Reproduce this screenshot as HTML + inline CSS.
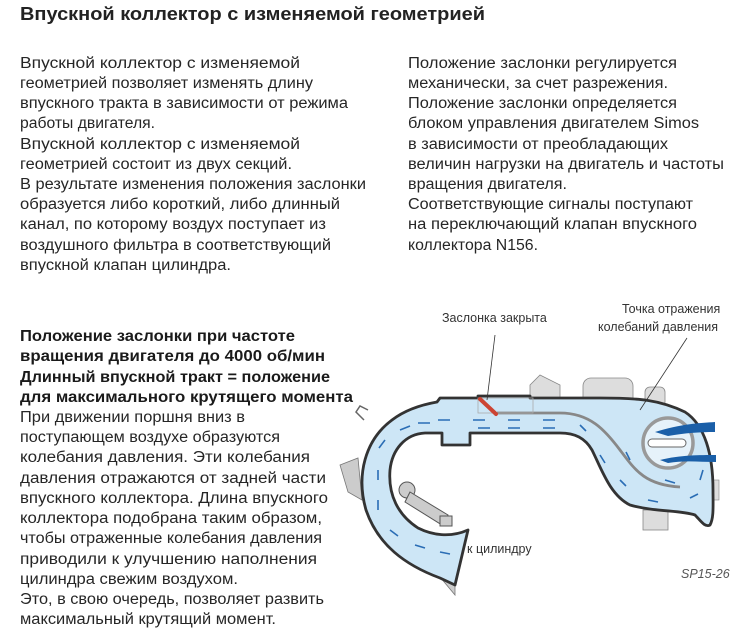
<!DOCTYPE html>
<html><head><meta charset="utf-8"><style>
html,body{margin:0;padding:0;background:#fff;}
svg{display:block}
text{font-family:"Liberation Sans","DejaVu Sans",sans-serif;fill:#262626;}
.n{font-size:15.5px}
.b{font-size:16px;font-weight:bold;fill:#1a1a1a}
.s{font-size:12.5px;fill:#333}
</style></head><body>
<svg width="746" height="635" viewBox="0 0 746 635" xmlns="http://www.w3.org/2000/svg">
<text x="20" y="20" style="font-size:18px;font-weight:bold;fill:#222" textLength="465" lengthAdjust="spacingAndGlyphs">Впускной коллектор с изменяемой геометрией</text>

<text class="n" x="20" y="68" textLength="280" lengthAdjust="spacingAndGlyphs">Впускной коллектор с изменяемой</text>
<text class="n" x="20" y="88" textLength="293" lengthAdjust="spacingAndGlyphs">геометрией позволяет изменять длину</text>
<text class="n" x="20" y="108" textLength="328" lengthAdjust="spacingAndGlyphs">впускного тракта в зависимости от режима</text>
<text class="n" x="20" y="128" textLength="135" lengthAdjust="spacingAndGlyphs">работы двигателя.</text>
<text class="n" x="20" y="149" textLength="280" lengthAdjust="spacingAndGlyphs">Впускной коллектор с изменяемой</text>
<text class="n" x="20" y="169" textLength="272" lengthAdjust="spacingAndGlyphs">геометрией состоит из двух секций.</text>
<text class="n" x="20" y="189" textLength="346" lengthAdjust="spacingAndGlyphs">В результате изменения положения заслонки</text>
<text class="n" x="20" y="209" textLength="320" lengthAdjust="spacingAndGlyphs">образуется либо короткий, либо длинный</text>
<text class="n" x="20" y="229" textLength="306" lengthAdjust="spacingAndGlyphs">канал, по которому воздух поступает из</text>
<text class="n" x="20" y="250" textLength="311" lengthAdjust="spacingAndGlyphs">воздушного фильтра в соответствующий</text>
<text class="n" x="20" y="270" textLength="211" lengthAdjust="spacingAndGlyphs">впускной клапан цилиндра.</text>

<text class="n" x="408" y="68" textLength="269" lengthAdjust="spacingAndGlyphs">Положение заслонки регулируется</text>
<text class="n" x="408" y="88" textLength="260" lengthAdjust="spacingAndGlyphs">механически, за счет разрежения.</text>
<text class="n" x="408" y="108" textLength="269" lengthAdjust="spacingAndGlyphs">Положение заслонки определяется</text>
<text class="n" x="408" y="128" textLength="291" lengthAdjust="spacingAndGlyphs">блоком управления двигателем Simos</text>
<text class="n" x="408" y="149" textLength="260" lengthAdjust="spacingAndGlyphs">в зависимости от преобладающих</text>
<text class="n" x="408" y="169" textLength="316" lengthAdjust="spacingAndGlyphs">величин нагрузки на двигатель и частоты</text>
<text class="n" x="408" y="189" textLength="159" lengthAdjust="spacingAndGlyphs">вращения двигателя.</text>
<text class="n" x="408" y="209" textLength="285" lengthAdjust="spacingAndGlyphs">Соответствующие сигналы поступают</text>
<text class="n" x="408" y="229" textLength="289" lengthAdjust="spacingAndGlyphs">на переключающий клапан впускного</text>
<text class="n" x="408" y="250" textLength="130" lengthAdjust="spacingAndGlyphs">коллектора N156.</text>

<text class="b" x="20" y="341" textLength="275" lengthAdjust="spacingAndGlyphs">Положение заслонки при частоте</text>
<text class="b" x="20" y="361" textLength="305" lengthAdjust="spacingAndGlyphs">вращения двигателя до 4000 об/мин</text>
<text class="b" x="20" y="382" textLength="310" lengthAdjust="spacingAndGlyphs">Длинный впускной тракт = положение</text>
<text class="b" x="20" y="402" textLength="333" lengthAdjust="spacingAndGlyphs">для максимального крутящего момента</text>

<text class="n" x="20" y="422" textLength="225" lengthAdjust="spacingAndGlyphs">При движении поршня вниз в</text>
<text class="n" x="20" y="442" textLength="260" lengthAdjust="spacingAndGlyphs">поступающем воздухе образуются</text>
<text class="n" x="20" y="462" textLength="290" lengthAdjust="spacingAndGlyphs">колебания давления. Эти колебания</text>
<text class="n" x="20" y="483" textLength="306" lengthAdjust="spacingAndGlyphs">давления отражаются от задней части</text>
<text class="n" x="20" y="503" textLength="308" lengthAdjust="spacingAndGlyphs">впускного коллектора. Длина впускного</text>
<text class="n" x="20" y="523" textLength="302" lengthAdjust="spacingAndGlyphs">коллектора подобрана таким образом,</text>
<text class="n" x="20" y="543" textLength="302" lengthAdjust="spacingAndGlyphs">чтобы отраженные колебания давления</text>
<text class="n" x="20" y="564" textLength="297" lengthAdjust="spacingAndGlyphs">приводили к улучшению наполнения</text>
<text class="n" x="20" y="584" textLength="218" lengthAdjust="spacingAndGlyphs">цилиндра свежим воздухом.</text>
<text class="n" x="20" y="604" textLength="304" lengthAdjust="spacingAndGlyphs">Это, в свою очередь, позволяет развить</text>
<text class="n" x="20" y="624" textLength="256" lengthAdjust="spacingAndGlyphs">максимальный крутящий момент.</text>

<!-- diagram -->
<g>
  <path d="M340,465 L358,458 L362,500 L348,492 Z" fill="#ccc" stroke="#777" stroke-width="0.8"/>
  <path d="M364,420 l-8,-8 l4,-6 l8,4" fill="none" stroke="#666" stroke-width="1.5"/>
  <path d="M530,385 L540,375 L560,385 L560,400 L530,400 Z" fill="#ddd" stroke="#888" stroke-width="0.8"/>
  <rect x="583" y="378" width="50" height="28" rx="8" fill="#ddd" stroke="#888" stroke-width="0.8"/>
  <rect x="645" y="387" width="20" height="20" rx="5" fill="#ddd" stroke="#888" stroke-width="0.8"/>
  <rect x="643" y="510" width="25" height="20" fill="#ddd" stroke="#888" stroke-width="0.8"/>
  <rect x="713" y="480" width="6" height="20" fill="#ddd" stroke="#888" stroke-width="0.6"/>
  <path d="M430,565 L455,575 L455,595 Z" fill="#ccc" stroke="#777" stroke-width="0.8"/>
  <!-- manifold body -->
  <path d="M455,585 L440,578 C405,565 378,545 366,510 C356,475 365,440 392,420 C405,410 420,405 437,402 L440,398 L478,398 L478,396 L530,396 L530,398 L600,398 C640,398 660,400 685,412 C705,425 713,455 713,490 C713,505 714,518 710,525 C705,528 700,520 695,515 C680,510 655,512 630,505 C610,495 602,470 592,450 C585,438 575,433 560,433 L470,433 L470,445 L442,445 L442,433 L425,433 C405,434 392,450 390,470 C388,495 398,515 418,528 C432,535 450,538 468,530 Z" fill="#cde6f6" stroke="#333" stroke-width="2.8" stroke-linejoin="round"/>
  <!-- partition -->
  <path d="M497,413 L560,413 C590,413 605,430 620,450 C635,470 645,485 680,487" fill="none" stroke="#888" stroke-width="2.8"/>
  <!-- valve housing -->
  <rect x="478" y="398" width="55" height="15" fill="none" stroke="#aaa" stroke-width="0.8"/>
  <line x1="480" y1="399" x2="496" y2="414" stroke="#c43" stroke-width="4" stroke-linecap="round"/>
  <!-- circle -->
  <circle cx="668" cy="443" r="25" fill="#e6f2fa" stroke="#999" stroke-width="3.5"/>
  <rect x="648" y="439" width="38" height="8" rx="4" fill="#fff" stroke="#666"/>
  <path d="M655,432 C680,424 700,423 715,422 L715,432 C700,432 685,433 668,436 Z" fill="#1a5fa8"/>
  <path d="M660,460 C680,455 700,455 716,455 L716,462 C700,462 685,460 668,463 Z" fill="#1a5fa8"/>
  <!-- injector -->
  <g stroke="#555" stroke-width="1" fill="#ccc">
    <circle cx="407" cy="490" r="8"/>
    <path d="M410,492 L448,515 L442,525 L405,502 Z"/>
    <rect x="440" y="516" width="12" height="10"/>
  </g>
  <!-- arrows -->
  <g stroke="#2a6db5" stroke-width="1.6" fill="none">
    <path d="M450,420 h-12 M485,420 h-12 M520,420 h-12 M555,420 h-12 M520,428 h-12 M555,428 h-12 M490,428 h-12 M430,423 h-12 M410,426 l-10,4 M385,440 l-6,8 M378,470 v10 M378,500 v10 M390,530 l8,6 M415,545 l10,3 M440,552 l10,2 M580,425 l6,6 M600,455 l5,8 M620,480 l6,6 M648,500 l10,2 M690,498 l8,-4 M700,480 l3,-10 M630,460 l-4,-8 M665,480 l10,3"/>
  </g>
  <!-- labels -->
  <text class="s" x="442" y="322">Заслонка закрыта</text>
  <line x1="495" y1="335" x2="487" y2="400" stroke="#333" stroke-width="0.8"/>
  <text class="s" x="622" y="313">Точка отражения</text>
  <text class="s" x="598" y="331">колебаний давления</text>
  <line x1="687" y1="338" x2="640" y2="410" stroke="#333" stroke-width="0.8"/>
  <text class="s" x="467" y="553">к цилиндру</text>
  <text class="s" x="681" y="578" style="font-style:italic;fill:#555">SP15-26</text>
</g>
</svg>
</body></html>
